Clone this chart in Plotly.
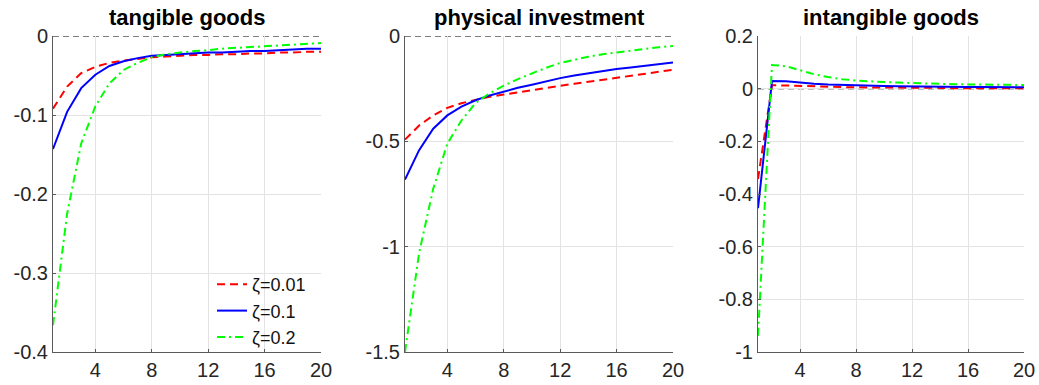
import plotly.graph_objects as go

# Horizon (periods)
periods = list(range(1, 21))

# Series labels
labels = ["ζ=0.01", "ζ=0.1", "ζ=0.2"]

# Tangible goods responses
tangible_001 = [-0.092, -0.064, -0.047, -0.039, -0.034, -0.031, -0.029, -0.027, -0.026, -0.025,
                -0.024, -0.024, -0.023, -0.023, -0.022, -0.022, -0.021, -0.021, -0.020, -0.020]
tangible_01 = [-0.143, -0.096, -0.066, -0.049, -0.038, -0.032, -0.028, -0.025, -0.024, -0.023,
               -0.022, -0.021, -0.021, -0.020, -0.019, -0.019, -0.018, -0.017, -0.016, -0.016]
tangible_02 = [-0.366, -0.225, -0.136, -0.089, -0.060, -0.043, -0.034, -0.027, -0.023, -0.021,
               -0.019, -0.018, -0.016, -0.015, -0.014, -0.013, -0.012, -0.011, -0.010, -0.009]

# Physical investment responses
invest_001 = [-0.492, -0.425, -0.377, -0.341, -0.319, -0.302, -0.288, -0.278, -0.267, -0.257,
              -0.246, -0.236, -0.227, -0.218, -0.209, -0.200, -0.190, -0.180, -0.170, -0.160]
invest_01 = [-0.681, -0.542, -0.440, -0.377, -0.335, -0.305, -0.282, -0.263, -0.246, -0.231,
             -0.215, -0.200, -0.188, -0.177, -0.167, -0.157, -0.149, -0.141, -0.133, -0.126]
invest_02 = [-1.500, -1.030, -0.725, -0.511, -0.401, -0.318, -0.272, -0.236, -0.205, -0.177,
             -0.151, -0.128, -0.112, -0.098, -0.087, -0.078, -0.068, -0.060, -0.053, -0.047]

# Intangible goods responses
intang_001 = [-0.343, 0.013, 0.012, 0.010, 0.008, 0.007, 0.006, 0.005, 0.005, 0.004,
              0.004, 0.003, 0.003, 0.003, 0.002, 0.002, 0.002, 0.002, 0.002, 0.002]
intang_01 = [-0.454, 0.029, 0.028, 0.023, 0.019, 0.016, 0.014, 0.012, 0.011, 0.010,
             0.009, 0.008, 0.008, 0.007, 0.007, 0.006, 0.006, 0.006, 0.005, 0.005]
intang_02 = [-0.938, 0.090, 0.085, 0.070, 0.055, 0.044, 0.036, 0.031, 0.027, 0.025,
             0.023, 0.021, 0.020, 0.018, 0.017, 0.016, 0.015, 0.015, 0.014, 0.014]

titles = ["tangible goods", "physical investment", "intangible goods"]
x_ticks = [4, 8, 12, 16, 20]
y_ticks_1 = [0, -0.1, -0.2, -0.3, -0.4]
y_ticks_2 = [0, -0.5, -1, -1.5]
y_ticks_3 = [0.2, 0, -0.2, -0.4, -0.6, -0.8, -1]

panels = [
    ([tangible_001, tangible_01, tangible_02], y_ticks_1, [-0.4, 0]),
    ([invest_001, invest_01, invest_02], y_ticks_2, [-1.5, 0]),
    ([intang_001, intang_01, intang_02], y_ticks_3, [-1, 0.2]),
]

W, H = 1039, 385
x_domains = [(53, 321), (405, 673), (758, 1024)]
y_domain = (1 - 352 / H, 1 - 36 / H)

styles = [
    dict(color="#ff0000", width=2, dash="8px,5px"),
    dict(color="#0000ff", width=2, dash="solid"),
    dict(color="#00ff00", width=2, dash="8px,4px,2px,4px"),
]

FONT = "Liberation Sans, Arial, sans-serif"
TICK_SIZE = 20
AXIS_COLOR = "#5a5a5a"


def fmt(v):
    return "%g" % v


fig = go.Figure()
layout = dict(
    width=W, height=H,
    margin=dict(l=0, r=0, t=0, b=0, pad=0, autoexpand=False),
    paper_bgcolor="white", plot_bgcolor="white",
    font=dict(family=FONT, size=TICK_SIZE, color="#262626"),
    showlegend=True,
    legend=dict(x=212 / W, y=1 - 266 / H, xanchor="left", yanchor="top",
                bgcolor="rgba(255,255,255,0)", borderwidth=0,
                font=dict(size=18, color="#111111"), tracegroupgap=0,
                itemwidth=30),
)

annotations = []
for i, (series, yt, yr) in enumerate(panels):
    n = "" if i == 0 else str(i + 1)
    xa, ya = "x" + n, "y" + n
    x0, x1 = x_domains[i]
    common = dict(
        showgrid=True, gridcolor="#e3e3e3", gridwidth=1,
        showline=True, linecolor=AXIS_COLOR, linewidth=1,
        ticks="inside", ticklen=3, tickcolor=AXIS_COLOR,
        zeroline=False, automargin=False,
        tickfont=dict(size=TICK_SIZE, color="#262626", family=FONT),
    )
    layout["xaxis" + n] = dict(
        domain=[x0 / W, x1 / W], anchor=ya, range=[1, 20],
        tickvals=x_ticks, ticktext=[fmt(v) for v in x_ticks], **common,
    )
    layout["yaxis" + n] = dict(
        domain=list(y_domain), anchor=xa, range=yr,
        tickvals=yt, ticktext=[fmt(v) for v in yt], **common,
    )
    # zero reference line
    fig.add_shape(type="line", xref=xa, yref=ya, x0=1, x1=20, y0=0, y1=0,
                  line=dict(color="#000000", width=1.2, dash="6px,4px"), layer="below")
    for k, ys in enumerate(series):
        fig.add_trace(go.Scatter(
            x=periods, y=ys, mode="lines", xaxis=xa, yaxis=ya,
            name=labels[k], line=styles[k], showlegend=(i == 0),
        ))
    annotations.append(dict(
        text="<b>%s</b>" % titles[i], xref="paper", yref="paper",
        x=(x0 + x1) / 2 / W, y=1 - 17 / H, xanchor="center", yanchor="middle",
        showarrow=False, font=dict(size=22, color="#000000", family=FONT),
    ))

layout["annotations"] = annotations
fig.update_layout(**layout)
fig.write_html("out.html")
